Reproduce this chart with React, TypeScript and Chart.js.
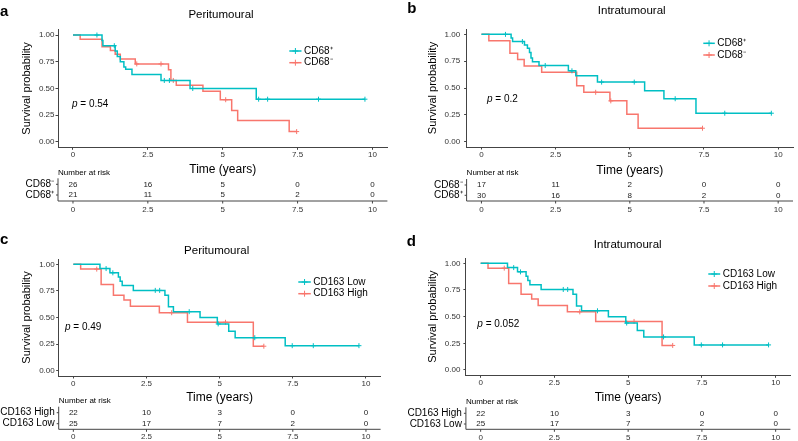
import React, { useEffect, useRef } from "react";
import { Chart, registerables } from "chart.js";

Chart.register(...registerables);

const TEAL = "#00BFC4";
const RED = "#F8766D";
const FONT = "'Liberation Sans', Arial, Helvetica, sans-serif";

// ---- axis ticks ----
const xTickValues = [0, 2.5, 5, 7.5, 10];
const xTickLabels = ["0", "2.5", "5", "7.5", "10"];
const yTickValues = [0, 0.25, 0.5, 0.75, 1];
const yTickLabels = ["0.00", "0.25", "0.50", "0.75", "1.00"];
const riskTimes = [0, 2.5, 5, 7.5, 10];

// ---- panel a: peritumoural CD68 ----
const aPosTime = [0, 0.97, 1.0, 1.41, 1.48, 1.58, 1.7, 1.76, 1.97, 2.94, 3.91, 6.12, 9.75];
const aPosSurv = [1, 0.95, 0.9, 0.85, 0.8, 0.75, 0.7, 0.68, 0.63, 0.575, 0.5, 0.4, 0.4];
const aPosCens = [0.8, 1.38, 3.05, 3.22, 4.0, 6.2, 6.5, 8.2, 9.75];
const aNegTime = [0, 0.24, 0.97, 1.25, 1.41, 1.58, 2.08, 3.19, 3.27, 3.45, 4.34, 4.92, 5.3, 5.5, 7.22, 7.47];
const aNegSurv = [1, 0.96, 0.89, 0.855, 0.82, 0.775, 0.73, 0.675, 0.575, 0.53, 0.475, 0.395, 0.295, 0.2, 0.097, 0.097];
const aNegCens = [2.13, 2.94, 3.35, 5.1, 7.47];
const aRiskNeg = [26, 16, 5, 0, 0];
const aRiskPos = [21, 11, 5, 2, 0];

// ---- panel b: intratumoural CD68 ----
const bPosTime = [0, 1.0, 1.05, 1.45, 1.55, 1.62, 1.67, 1.72, 1.94, 2.93, 3.18, 3.91, 5.5, 6.15, 7.23, 9.77];
const bPosSurv = [1, 0.966, 0.933, 0.9, 0.87, 0.83, 0.78, 0.745, 0.71, 0.66, 0.615, 0.555, 0.475, 0.4, 0.265, 0.265];
const bPosCens = [0.81, 1.38, 2.15, 3.05, 4.05, 5.15, 6.53, 8.2, 9.77];
const bNegTime = [0, 0.25, 0.96, 1.22, 1.44, 2.03, 3.21, 3.45, 4.33, 4.9, 5.28, 7.45];
const bNegSurv = [1, 0.94, 0.825, 0.765, 0.705, 0.647, 0.52, 0.46, 0.38, 0.255, 0.125, 0.125];
const bNegCens = [3.85, 4.36, 7.45];
const bRiskNeg = [17, 11, 2, 0, 0];
const bRiskPos = [30, 16, 8, 2, 0];

// ---- panels c & d: CD163 ----
const lowTime = [0, 0.91, 1.25, 1.54, 1.6, 1.67, 2.05, 3.13, 3.25, 3.42, 4.33, 4.92, 5.31, 5.53, 7.24, 9.76];
const lowSurv = [1, 0.96, 0.92, 0.88, 0.84, 0.8, 0.755, 0.71, 0.6, 0.555, 0.5, 0.44, 0.37, 0.31, 0.235, 0.235];
const lowCens = [1.12, 1.35, 2.8, 2.95, 3.96, 4.95, 6.2, 7.48, 8.2, 9.76];
const highTime = [0, 0.25, 0.95, 1.37, 1.73, 1.95, 2.94, 3.9, 6.15, 6.51];
const highSurv = [1, 0.955, 0.81, 0.71, 0.665, 0.605, 0.545, 0.455, 0.23, 0.23];
const highCens = [0.8, 3.36, 5.2, 6.51];
const riskHigh = [22, 10, 3, 0, 0];
const riskLow = [25, 17, 7, 2, 0];

type Group = { label: string; color: string; time: number[]; surv: number[]; cens: number[] };
type Row = { label: string; values: number[] };
type Panel = {
  key: string;
  left: number; top: number; width: number; height: number;
  area: { l: number; r: number; t: number; b: number };
  letter: string; letterX: number; letterBase: number;
  title: string; titleX: number; titleY: number;
  yTitleX: number; yTickPad: number;
  p: string; pX: number; pY: number;
  legendX: number; legendTextX: number; legendY: number[];
  groups: Group[];
  rows: Row[];
  xTitleY: number; narY: number; rowY: number[]; tableLineY: number; tableTickY: number;
};

const gA: Group[] = [
  { label: "CD68\u207A", color: TEAL, time: aPosTime, surv: aPosSurv, cens: aPosCens },
  { label: "CD68\u207B", color: RED, time: aNegTime, surv: aNegSurv, cens: aNegCens },
];
const gB: Group[] = [
  { label: "CD68\u207A", color: TEAL, time: bPosTime, surv: bPosSurv, cens: bPosCens },
  { label: "CD68\u207B", color: RED, time: bNegTime, surv: bNegSurv, cens: bNegCens },
];
const gC: Group[] = [
  { label: "CD163 Low", color: TEAL, time: lowTime, surv: lowSurv, cens: lowCens },
  { label: "CD163 High", color: RED, time: highTime, surv: highSurv, cens: highCens },
];

const panels: Panel[] = [
  {
    key: "a", left: 0, top: 0, width: 400, height: 220,
    area: { l: 58, r: 387.4, t: 29.7, b: 147.3 },
    letter: "a", letterX: 0, letterBase: 16,
    title: "Peritumoural", titleX: 221, titleY: 15,
    yTitleX: 27, yTickPad: 1,
    p: "0.54", pX: 72, pY: 104,
    legendX: 289.3, legendTextX: 304, legendY: [51, 62.7],
    groups: gA,
    rows: [{ label: "CD68\u207B", values: aRiskNeg }, { label: "CD68\u207A", values: aRiskPos }],
    xTitleY: 169.3, narY: 173, rowY: [184.3, 195], tableLineY: 201, tableTickY: 210,
  },
  {
    key: "b", left: 400, top: 0, width: 398, height: 220,
    area: { l: 66.6, r: 397.7, t: 29, b: 147 },
    letter: "b", letterX: 7.3, letterBase: 12.7,
    title: "Intratumoural", titleX: 231.7, titleY: 11,
    yTitleX: 33.3, yTickPad: 4,
    p: "0.2", pX: 87, pY: 99,
    legendX: 303.3, legendTextX: 317.3, legendY: [43.3, 55],
    groups: gB,
    rows: [{ label: "CD68\u207B", values: bRiskNeg }, { label: "CD68\u207A", values: bRiskPos }],
    xTitleY: 171, narY: 173, rowY: [185, 195.3], tableLineY: 201, tableTickY: 210,
  },
  {
    key: "c", left: 0, top: 220, width: 400, height: 221,
    area: { l: 58.7, r: 380.6, t: 39, b: 156 },
    letter: "c", letterX: 0, letterBase: 24,
    title: "Peritumoural", titleX: 216.7, titleY: 31,
    yTitleX: 26.7, yTickPad: 1.5,
    p: "0.49", pX: 65, pY: 107.7,
    legendX: 298.3, legendTextX: 313.3, legendY: [62, 73.7],
    groups: gC,
    rows: [{ label: "CD163 High", values: riskHigh }, { label: "CD163 Low", values: riskLow }],
    xTitleY: 177.7, narY: 181, rowY: [192.7, 203.7], tableLineY: 209.3, tableTickY: 216.7,
  },
  {
    key: "d", left: 400, top: 220, width: 398, height: 221,
    area: { l: 65.9, r: 390.4, t: 38, b: 155.3 },
    letter: "d", letterX: 6.7, letterBase: 25.7,
    title: "Intratumoural", titleX: 227.7, titleY: 25,
    yTitleX: 33.3, yTickPad: 3,
    p: "0.052", pX: 77.3, pY: 104.3,
    legendX: 308.3, legendTextX: 322.7, legendY: [54, 66],
    groups: gC,
    rows: [{ label: "CD163 High", values: riskHigh }, { label: "CD163 Low", values: riskLow }],
    xTitleY: 177.7, narY: 181.7, rowY: [193.3, 204], tableLineY: 209.3, tableTickY: 218,
  },
];

function stepAt(time: number[], surv: number[], t: number): number {
  let v = surv[0];
  for (let i = 0; i < time.length; i++) if (time[i] <= t) v = surv[i];
  return v;
}

function drawCross(ctx: CanvasRenderingContext2D, x: number, y: number, r: number, color: string) {
  ctx.save();
  ctx.strokeStyle = color;
  ctx.lineWidth = 1;
  ctx.beginPath();
  ctx.moveTo(x - r, y); ctx.lineTo(x + r, y);
  ctx.moveTo(x, y - r); ctx.lineTo(x, y + r);
  ctx.stroke();
  ctx.restore();
}

function makePlugin(p: Panel) {
  return {
    id: "km-extras-" + p.key,
    afterDraw(chart: any) {
      const ctx: CanvasRenderingContext2D = chart.ctx;
      const xs = chart.scales.x;
      const ca = chart.chartArea;
      ctx.save();
      // panel letter
      ctx.fillStyle = "#000";
      ctx.font = `bold 15px ${FONT}`;
      ctx.textAlign = "left";
      ctx.textBaseline = "alphabetic";
      ctx.fillText(p.letter, p.letterX, p.letterBase);
      // title
      ctx.font = `11.5px ${FONT}`;
      ctx.textAlign = "center";
      ctx.textBaseline = "middle";
      ctx.fillText(p.title, p.titleX, p.titleY);
      // y title
      ctx.save();
      ctx.translate(p.yTitleX, (ca.top + ca.bottom) / 2);
      ctx.rotate(-Math.PI / 2);
      ctx.font = `11px ${FONT}`;
      ctx.fillText("Survival probability", 0, 0);
      ctx.restore();
      // x title
      ctx.font = `12px ${FONT}`;
      ctx.fillText("Time (years)", (ca.left + ca.right) / 2, p.xTitleY);
      // p value
      ctx.textAlign = "left";
      ctx.font = `italic 10px ${FONT}`;
      ctx.fillText("p", p.pX, p.pY);
      const pw = ctx.measureText("p").width;
      ctx.font = `10px ${FONT}`;
      ctx.fillText(" = " + p.p, p.pX + pw, p.pY);
      // legend
      p.groups.forEach((g, i) => {
        const y = p.legendY[i];
        ctx.save();
        ctx.strokeStyle = g.color;
        ctx.lineWidth = 1.5;
        ctx.beginPath();
        ctx.moveTo(p.legendX, y);
        ctx.lineTo(p.legendTextX - 2.5, y);
        ctx.stroke();
        ctx.restore();
        drawCross(ctx, (p.legendX + p.legendTextX - 2.5) / 2, y, 3, g.color);
        ctx.fillStyle = "#000";
        ctx.font = `10px ${FONT}`;
        ctx.textAlign = "left";
        ctx.textBaseline = "middle";
        ctx.fillText(g.label, p.legendTextX, y);
      });
      // risk table
      ctx.fillStyle = "#000";
      ctx.font = `8px ${FONT}`;
      ctx.textAlign = "left";
      ctx.fillText("Number at risk", ca.left, p.narY);
      p.rows.forEach((row, i) => {
        const y = p.rowY[i];
        ctx.font = `10px ${FONT}`;
        ctx.textAlign = "right";
        ctx.fillStyle = "#000";
        ctx.fillText(row.label, ca.left - 4, y);
        ctx.font = `8px ${FONT}`;
        ctx.textAlign = "center";
        ctx.fillStyle = "#222";
        row.values.forEach((v, j) => {
          ctx.fillText(String(v), xs.getPixelForValue(riskTimes[j]), y);
        });
      });
      // table axes
      ctx.strokeStyle = "#444";
      ctx.lineWidth = 1;
      ctx.beginPath();
      ctx.moveTo(ca.left, p.rowY[0] - 6);
      ctx.lineTo(ca.left, p.tableLineY);
      ctx.lineTo(ca.right, p.tableLineY);
      p.rowY.forEach((y) => {
        ctx.moveTo(ca.left - 2, y);
        ctx.lineTo(ca.left, y);
      });
      riskTimes.forEach((t) => {
        const x = xs.getPixelForValue(t);
        ctx.moveTo(x, p.tableLineY);
        ctx.lineTo(x, p.tableLineY + 2.5);
      });
      ctx.stroke();
      ctx.fillStyle = "#333";
      ctx.font = `8px ${FONT}`;
      ctx.textAlign = "center";
      riskTimes.forEach((t, j) => {
        ctx.fillText(xTickLabels[j], xs.getPixelForValue(t), p.tableTickY);
      });
      ctx.restore();
    },
  };
}

function KMPanel({ panel }: { panel: Panel }) {
  const ref = useRef<HTMLCanvasElement>(null);
  useEffect(() => {
    if (!ref.current) return;
    const p = panel;
    const datasets: any[] = [];
    p.groups.forEach((g) => {
      datasets.push({
        label: g.label,
        data: g.time.map((t, i) => ({ x: t, y: g.surv[i] })),
        borderColor: g.color,
        borderWidth: 1.5,
        stepped: true,
        pointRadius: 0,
        fill: false,
        tension: 0,
      });
      datasets.push({
        label: g.label + " censored",
        data: g.cens.map((t) => ({ x: t, y: stepAt(g.time, g.surv, t) })),
        showLine: false,
        pointStyle: "cross",
        pointRadius: 2.5,
        pointBorderWidth: 1,
        pointBorderColor: g.color,
        borderColor: g.color,
        backgroundColor: g.color,
      });
    });
    const chart = new Chart(ref.current, {
      type: "line",
      data: { datasets },
      options: {
        responsive: false,
        animation: false,
        events: [],
        layout: { padding: { left: 0, top: p.area.t, right: p.width - p.area.r, bottom: 0 } },
        plugins: { legend: { display: false }, tooltip: { enabled: false }, title: { display: false } },
        scales: {
          x: {
            type: "linear",
            min: -0.5,
            max: 10.5,
            afterBuildTicks: (s: any) => { s.ticks = xTickValues.map((v) => ({ value: v })); },
            afterFit: (s: any) => { s.height = p.height - p.area.b; },
            ticks: {
              callback: (v: any) => { const i = xTickValues.indexOf(Number(v)); return i >= 0 ? xTickLabels[i] : ""; },
              font: { size: 8, family: FONT },
              color: "#333",
              padding: 0,
              maxRotation: 0,
              autoSkip: false,
            },
            grid: { drawOnChartArea: false, drawTicks: true, tickLength: 2.5, color: "#444" },
            border: { display: true, color: "#444", width: 1 },
          },
          y: {
            type: "linear",
            min: -0.05,
            max: 1.05,
            afterBuildTicks: (s: any) => { s.ticks = yTickValues.map((v) => ({ value: v })); },
            afterFit: (s: any) => { s.width = p.area.l; },
            ticks: {
              callback: (v: any) => { const i = yTickValues.indexOf(Number(v)); return i >= 0 ? yTickLabels[i] : ""; },
              font: { size: 8, family: FONT },
              color: "#333",
              padding: p.yTickPad,
              autoSkip: false,
            },
            grid: { drawOnChartArea: false, drawTicks: true, tickLength: 2.5, color: "#444" },
            border: { display: true, color: "#444", width: 1 },
          },
        },
      },
      plugins: [makePlugin(p)],
    } as any);
    return () => chart.destroy();
  }, [panel]);
  return (
    <canvas
      ref={ref}
      width={panel.width}
      height={panel.height}
      style={{ position: "absolute", left: panel.left, top: panel.top, width: panel.width, height: panel.height }}
    />
  );
}

export default function App() {
  return (
    <div style={{ position: "absolute", left: 0, top: 0, width: 798, height: 441, background: "#fff", overflow: "hidden" }}>
      {panels.map((p) => (
        <KMPanel key={p.key} panel={p} />
      ))}
    </div>
  );
}
